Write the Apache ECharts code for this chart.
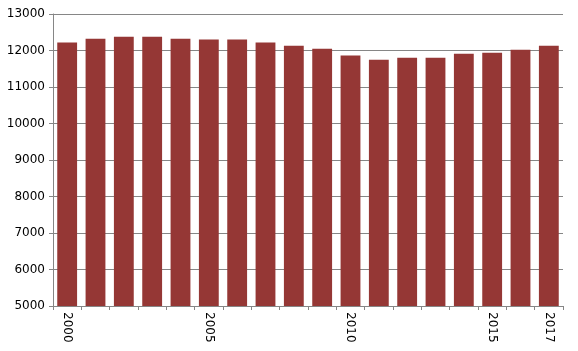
<!DOCTYPE html>
<html>
<head>
<meta charset="utf-8">
<script src="https://cdn.jsdelivr.net/npm/echarts@6/dist/echarts.min.js"></script>
<style>
    html, body { margin: 0; padding: 0; background: #fff; }
    #chart { width: 578px; height: 351px; }
</style>
</head>
<body>
<div id="chart"></div>
<script>
const years = ['2000', '2001', '2002', '2003', '2004', '2005', '2006', '2007', '2008',
    '2009', '2010', '2011', '2012', '2013', '2014', '2015', '2016', '2017'];
const values = [12220, 12320, 12380, 12380, 12320, 12300, 12300, 12220, 12130,
    12050, 11860, 11750, 11800, 11800, 11910, 11940, 12020, 12130];
const shownLabels = ['2000', '2005', '2010', '2015', '2017'];

const myChart = echarts.init(document.getElementById('chart'));

const option = {
    animation: false,
    grid: {
        left: 53,
        right: 15,
        top: 14,
        bottom: 45
    },
    xAxis: {
        type: 'category',
        data: years,
        axisLine: { lineStyle: { color: '#868686', width: 1 } },
        axisTick: { show: true, length: 4, lineStyle: { color: '#868686' } },
        axisLabel: {
            rotate: -90,
            interval: 0,
            margin: 6,
            color: '#000',
            fontSize: 12,
            fontFamily: 'DejaVu Sans',
            formatter: function (v) {
                return shownLabels.indexOf(v) >= 0 ? v : '';
            }
        }
    },
    yAxis: {
        type: 'value',
        min: 5000,
        max: 13000,
        interval: 1000,
        axisLine: { show: true, lineStyle: { color: '#868686', width: 1 } },
        axisTick: { show: true, length: 4, lineStyle: { color: '#868686' } },
        splitLine: { lineStyle: { color: '#868686', width: 1 } },
        axisLabel: {
            color: '#000',
            fontSize: 12,
            fontFamily: 'DejaVu Sans',
            margin: 8,
            formatter: function (v) { return String(v); }
        }
    },
    series: [
        {
            type: 'bar',
            data: values,
            barCategoryGap: '30%',
            itemStyle: { color: '#953735' }
        }
    ]
};

myChart.setOption(option);
</script>
</body>
</html>
